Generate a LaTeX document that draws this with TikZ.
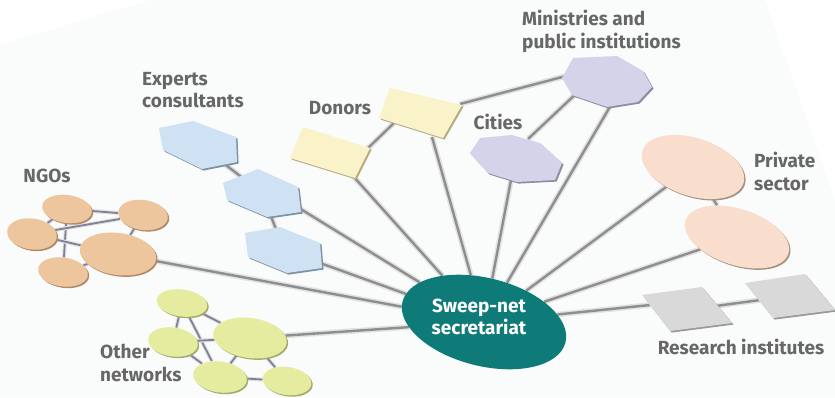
\documentclass[tikz,border=0pt]{standalone}
\usepackage{fontspec}
\setmainfont{Fira Sans}
\usetikzlibrary{shapes.geometric,shadows}
\pgfdeclarelayer{bg}
\pgfsetlayers{bg,main}
\definecolor{tealc}{HTML}{0F7B78}
\definecolor{linec}{HTML}{8E8E8E}
\definecolor{haloc}{HTML}{E2E2E2}
\definecolor{txtc}{HTML}{676767}
\definecolor{tintc}{HTML}{FAFBFB}
\definecolor{hexc}{HTML}{CFE2F3}\definecolor{hexs}{HTML}{7E92A6}
\definecolor{donc}{HTML}{FAF3C9}\definecolor{dons}{HTML}{B5AC82}
\definecolor{octc}{HTML}{D4D3E9}\definecolor{octs}{HTML}{8D8CA6}
\definecolor{pric}{HTML}{F9DDCD}\definecolor{pris}{HTML}{A8907F}
\definecolor{resc}{HTML}{D9D9D9}\definecolor{ress}{HTML}{9A9A9A}
\definecolor{ngoc}{HTML}{EEC69E}\definecolor{ngos}{HTML}{AE8A66}
\definecolor{othc}{HTML}{E6EC9F}\definecolor{oths}{HTML}{A6AB6C}
\newcommand\shadedpoly[3]{\fill[#2,shift={(1.6,1.6)}] #3; \fill[#1] #3;}
\begin{document}
\begin{tikzpicture}[x=1pt,y=-1pt,
  conn/.style={preaction={draw=haloc,line width=5.5pt},draw=linec,line width=2.4pt},
  thin/.style={preaction={draw=haloc,line width=4pt},draw=linec!90!blue,line width=1.8pt},
  lbl/.style={text=txtc,font=\fontsize{19}{22.5}\selectfont\bfseries,inner sep=0pt,align=left},
  blob/.style={ellipse,inner sep=0pt,rotate=-8},
  ngo/.style={blob,fill=ngoc,drop shadow={shadow xshift=1.4pt,shadow yshift=-1.4pt,fill=ngos,opacity=1}},
  oth/.style={blob,fill=othc,drop shadow={shadow xshift=1.4pt,shadow yshift=-1.4pt,fill=oths,opacity=1}},
  pri/.style={blob,rotate=-4,fill=pric,drop shadow={shadow xshift=1.4pt,shadow yshift=-1.4pt,fill=pris,opacity=1}}]
\useasboundingbox (0,0) rectangle (835,397);

% central
\node[ellipse,fill=tealc,minimum width=168pt,minimum height=88pt,rotate=-14] (sec) at (484,322) {};
\node[lbl,text=white,align=center] (sect) at (479,317) {Sweep-net\\secretariat};

% NGOs
\node[ngo,minimum width=50pt,minimum height=28pt] (n1) at (67,209) {};
\node[ngo,minimum width=50pt,minimum height=30pt] (n2) at (143,215) {};
\node[ngo,minimum width=50pt,minimum height=31pt] (n3) at (32,234) {};
\node[ngo,minimum width=77pt,minimum height=42pt] (n4) at (118,254) {};
\node[ngo,minimum width=50pt,minimum height=29pt] (n5) at (63,272) {};
\node[lbl] (lngo) at (47,176) {NGOs};

% Other networks
\node[oth,minimum width=51pt,minimum height=27pt] (o1) at (182,303) {};
\node[oth,minimum width=50pt,minimum height=29pt] (o2) at (173,342) {};
\node[oth,minimum width=74pt,minimum height=40pt] (o3) at (250,338) {};
\node[oth,minimum width=54pt,minimum height=31pt] (o4) at (220,377) {};
\node[oth,minimum width=49pt,minimum height=28pt] (o5) at (287,381) {};
\node[lbl,anchor=north west] (loth) at (100,344) {Other\\networks};

% Experts hexagons
\shadedpoly{hexc}{hexs}{(159,128) -- (193,121) -- (236,137) -- (237,162) -- (202,169) -- (163,150) -- cycle}
\shadedpoly{hexc}{hexs}{(223,183) -- (258,169) -- (298,187) -- (301,212) -- (267,217) -- (227,200) -- cycle}
\shadedpoly{hexc}{hexs}{(245,233) -- (280,227) -- (320,243) -- (322,268) -- (287,273) -- (248,257) -- cycle}
\coordinate (h1) at (200,145);
\coordinate (h2) at (262,193);
\coordinate (h3) at (284,250);
\coordinate (h2r) at (299,208);
\coordinate (h3r) at (320,263);
\node[lbl,anchor=north west] (lexp) at (142,72) {Experts\\consultants};

% Donors
\shadedpoly{donc}{dons}{(303,127) -- (370,148) -- (355,178) -- (290,158) -- cycle}
\shadedpoly{donc}{dons}{(390,88) -- (462,105) -- (443,138) -- (379,118) -- cycle}
\coordinate (d1a) at (366,150);
\coordinate (d1b) at (353,176);
\coordinate (d2a) at (395,122);
\coordinate (d2b) at (432,137);
\coordinate (d2c) at (460,104);
\node[lbl] (ldon) at (340,108) {Donors};

% Ministries and cities
\shadedpoly{octc}{octs}{(573,58) -- (617,56) -- (643,71) -- (652,87) -- (638,102) -- (607,107) -- (572,95) -- (562,78) -- cycle}
\shadedpoly{octc}{octs}{(480,138) -- (512,135) -- (540,143) -- (562,163) -- (555,180) -- (517,182) -- (488,173) -- (470,153) -- cycle}
\coordinate (m1) at (566,76);
\coordinate (m2) at (580,90);
\coordinate (m3) at (611,105);
\coordinate (c1) at (528,139);
\coordinate (c2) at (511,180);
\node[lbl,anchor=north west] (lmin) at (522,10) {Ministries and\\public institutions};
\node[lbl] (lcit) at (498,122) {Cities};

% Private sector
\node[pri,minimum width=106pt,minimum height=58pt,rotate=-6] (p1) at (693,167) {};
\node[pri,minimum width=108pt,minimum height=56pt,rotate=-6] (p2) at (737,237) {};
\node[lbl,anchor=north west] (lpri) at (754,152) {Private\\sector};

% Research institutes
\shadedpoly{resc}{ress}{(642,295) -- (702,287) -- (732,323) -- (670,331) -- cycle}
\shadedpoly{resc}{ress}{(745,283) -- (805,274) -- (835,310) -- (773,318) -- cycle}
\coordinate (r1) at (686,310);
\coordinate (r1b) at (650,305);
\coordinate (r2) at (790,296);
\node[lbl] (lres) at (741,347) {Research institutes};

\begin{pgfonlayer}{bg}
  \fill[white] (0,0) rectangle (835,397);
  \fill[tintc] (0,45) -- (150,0) -- (765,0) -- (835,200) -- (835,397) -- (0,397) -- cycle;
  % internal NGO lines
  \draw[thin] (n1) -- (n2);
  \draw[thin] (n1) -- (n3);
  \draw[thin] (n1) -- (n5);
  \draw[thin] (n3) -- (n2);
  \draw[thin] (n3) -- (n4);
  \draw[thin] (n5) -- (n4);
  \draw[thin] (n2) -- (n4);
  % internal other lines
  \draw[thin] (o1) -- (o2);
  \draw[thin] (o1) -- (o4);
  \draw[thin] (o1) -- (o3);
  \draw[thin] (o2) -- (o4);
  \draw[thin] (o2) -- (o3);
  \draw[thin] (o3) -- (o4);
  \draw[thin] (o3) -- (o5);
  \draw[thin] (o4) -- (o5);
  % group links
  \draw[conn] (h1) -- (h2);
  \draw[conn] (h2) -- (h3);
  \draw[conn] (d1a) -- (d2a);
  \draw[conn] (d2c) -- (m1);
  \draw[conn] (c1) -- (m2);
  \draw[conn] (p1) -- (p2);
  \draw[conn] (r1) -- (r2);
  % spokes to secretariat
  \draw[conn] (n4) -- (sec);
  \draw[conn] (o3) -- (sec);
  \draw[conn] (h2r) -- (sec);
  \draw[conn] (h3r) -- (sec);
  \draw[conn] (d1b) -- (sec);
  \draw[conn] (d2b) -- (sec);
  \draw[conn] (c2) -- (sec);
  \draw[conn] (m3) -- (sec);
  \draw[conn] (p1) -- (sec);
  \draw[conn] (p2) -- (sec);
  \draw[conn] (r1b) -- (sec);
\end{pgfonlayer}
\end{tikzpicture}
\end{document}
